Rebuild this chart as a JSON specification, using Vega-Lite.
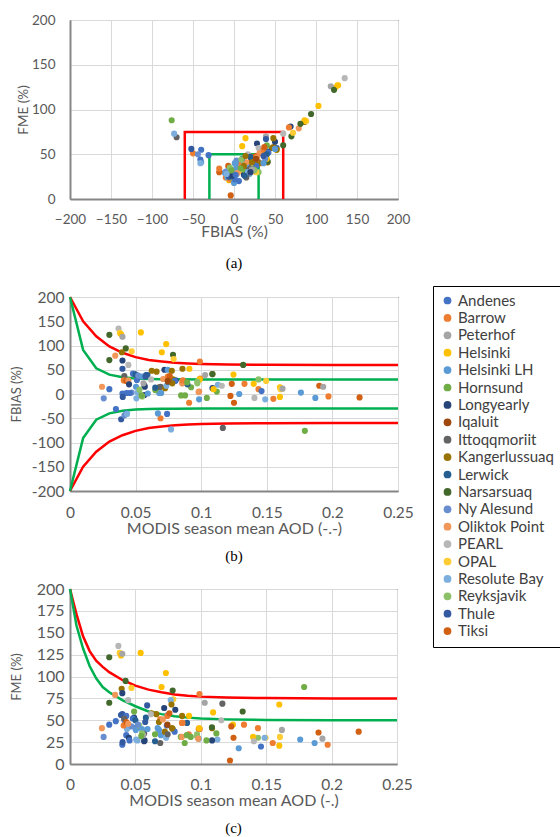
{
  "$schema": "https://vega.github.io/schema/vega-lite/v6.json",
  "padding": {"left": 9, "top": 12, "right": 0, "bottom": 0},
  "background": "white",
  "bounds": "flush",
  "spacing": 98,
  "datasets": {
    "pts": [
      {"station":"PEARL","aod":0.037,"fbias":135,"fme":135},
      {"station":"OPAL","aod":0.038,"fbias":126,"fme":127},
      {"station":"Helsinki","aod":0.039,"fbias":123,"fme":124},
      {"station":"Peterhof","aod":0.040,"fbias":118,"fme":126},
      {"station":"Narsarsuaq","aod":0.030,"fbias":122,"fme":122},
      {"station":"Helsinki","aod":0.054,"fbias":127,"fme":127},
      {"station":"Narsarsuaq","aod":0.0425,"fbias":94,"fme":95},
      {"station":"Kangerlussuaq","aod":0.0395,"fbias":86,"fme":86},
      {"station":"OPAL","aod":0.047,"fbias":88,"fme":87},
      {"station":"Oliktok Point","aod":0.0345,"fbias":79,"fme":79},
      {"station":"Narsarsuaq","aod":0.030,"fbias":70,"fme":70},
      {"station":"Longyearly","aod":0.040,"fbias":69,"fme":81},
      {"station":"Thule","aod":0.040,"fbias":52,"fme":57},
      {"station":"PEARL","aod":0.0445,"fbias":60,"fme":73},
      {"station":"Helsinki","aod":0.0733,"fbias":103,"fme":104},
      {"station":"Helsinki","aod":0.070,"fbias":86,"fme":88},
      {"station":"Narsarsuaq","aod":0.0785,"fbias":81,"fme":84},
      {"station":"OPAL","aod":0.079,"fbias":72,"fme":74},
      {"station":"Barrow","aod":0.099,"fbias":67,"fme":80},
      {"station":"Narsarsuaq","aod":0.132,"fbias":60,"fme":60},
      {"station":"Hornsund","aod":0.179,"fbias":-76,"fme":88},
      {"station":"Ittoqqmoriit","aod":0.1165,"fbias":-70,"fme":69},
      {"station":"Resolute Bay","aod":0.077,"fbias":-73,"fme":73},
      {"station":"Barrow","aod":0.069,"fbias":-50,"fme":51},
      {"station":"Helsinki LH","aod":0.067,"fbias":-40,"fme":41},
      {"station":"Andenes","aod":0.074,"fbias":-41,"fme":44},
      {"station":"Thule","aod":0.039,"fbias":-52,"fme":56},
      {"station":"Andenes","aod":0.043,"fbias":-40,"fme":55},
      {"station":"Ny Alesund","aod":0.0415,"fbias":-44,"fme":50},
      {"station":"Andenes","aod":0.035,"fbias":-31,"fme":49},
      {"station":"Resolute Bay","aod":0.0435,"fbias":-41,"fme":40},
      {"station":"Reyksjavik","aod":0.1437,"fbias":30,"fme":30},
      {"station":"Helsinki","aod":0.140,"fbias":21,"fme":31},
      {"station":"OPAL","aod":0.1495,"fbias":27,"fme":30},
      {"station":"Barrow","aod":0.1437,"fbias":10,"fme":41},
      {"station":"Andenes","aod":0.146,"fbias":6,"fme":20},
      {"station":"PEARL","aod":0.1406,"fbias":-8,"fme":26},
      {"station":"Resolute Bay","aod":0.1488,"fbias":-11,"fme":30},
      {"station":"Barrow","aod":0.155,"fbias":-10,"fme":24},
      {"station":"Helsinki","aod":0.160,"fbias":14,"fme":68},
      {"station":"OPAL","aod":0.1605,"fbias":10,"fme":31},
      {"station":"Peterhof","aod":0.162,"fbias":11,"fme":39},
      {"station":"Helsinki","aod":0.160,"fbias":-6,"fme":21},
      {"station":"Helsinki LH","aod":0.176,"fbias":3,"fme":28},
      {"station":"Helsinki LH","aod":0.187,"fbias":-8,"fme":24},
      {"station":"Tiksi","aod":0.190,"fbias":17,"fme":36},
      {"station":"Peterhof","aod":0.193,"fbias":15,"fme":29},
      {"station":"Barrow","aod":0.197,"fbias":-5,"fme":22},
      {"station":"Tiksi","aod":0.2207,"fbias":-7,"fme":37},
      {"station":"Peterhof","aod":0.103,"fbias":39,"fme":70},
      {"station":"Kangerlussuaq","aod":0.1086,"fbias":41,"fme":41},
      {"station":"Narsarsuaq","aod":0.1085,"fbias":41,"fme":42},
      {"station":"Helsinki","aod":0.1246,"fbias":40,"fme":45},
      {"station":"Barrow","aod":0.133,"fbias":21,"fme":45},
      {"station":"Tiksi","aod":0.1233,"fbias":21,"fme":43},
      {"station":"Resolute Bay","aod":0.1127,"fbias":19,"fme":28},
      {"station":"PEARL","aod":0.1157,"fbias":17,"fme":50},
      {"station":"Hornsund","aod":0.1119,"fbias":5,"fme":35},
      {"station":"Longyearly","aod":0.1086,"fbias":12,"fme":27},
      {"station":"Helsinki","aod":0.1094,"fbias":10,"fme":59},
      {"station":"Barrow","aod":0.0984,"fbias":5,"fme":40},
      {"station":"Helsinki LH","aod":0.0984,"fbias":-11,"fme":29},
      {"station":"Hornsund","aod":0.1043,"fbias":-8,"fme":27},
      {"station":"Tiksi","aod":0.1223,"fbias":-4,"fme":4},
      {"station":"Helsinki LH","aod":0.129,"fbias":0,"fme":18},
      {"station":"Tiksi","aod":0.125,"fbias":-18,"fme":30},
      {"station":"Hornsund","aod":0.0847,"fbias":-3,"fme":31},
      {"station":"Hornsund","aod":0.0877,"fbias":-3,"fme":24},
      {"station":"Barrow","aod":0.0908,"fbias":-18,"fme":34},
      {"station":"Hornsund","aod":0.0923,"fbias":14,"fme":31},
      {"station":"Reyksjavik","aod":0.0971,"fbias":22,"fme":34},
      {"station":"Barrow","aod":0.0992,"fbias":32,"fme":40},
      {"station":"Helsinki","aod":0.0988,"fbias":30,"fme":41},
      {"station":"Helsinki","aod":0.091,"fbias":52,"fme":55},
      {"station":"Kangerlussuaq","aod":0.0857,"fbias":52,"fme":55},
      {"station":"Barrow","aod":0.0856,"fbias":22,"fme":47},
      {"station":"Lerwick","aod":0.0895,"fbias":20,"fme":47},
      {"station":"Kangerlussuaq","aod":0.0623,"fbias":48,"fme":58},
      {"station":"Kangerlussuaq","aod":0.066,"fbias":46,"fme":57},
      {"station":"Longyearly","aod":0.072,"fbias":50,"fme":64},
      {"station":"Helsinki LH","aod":0.0745,"fbias":50,"fme":56},
      {"station":"Kangerlussuaq","aod":0.0776,"fbias":48,"fme":68},
      {"station":"Longyearly","aod":0.0805,"fbias":28,"fme":62},
      {"station":"Thule","aod":0.059,"fbias":39,"fme":67},
      {"station":"Longyearly","aod":0.049,"fbias":41,"fme":53},
      {"station":"Ittoqqmoriit","aod":0.0414,"fbias":37,"fme":52},
      {"station":"Barrow","aod":0.041,"fbias":28,"fme":44},
      {"station":"Tiksi","aod":0.043,"fbias":27,"fme":48},
      {"station":"Andenes","aod":0.051,"fbias":29,"fme":42},
      {"station":"Lerwick","aod":0.058,"fbias":39,"fme":53},
      {"station":"PEARL","aod":0.0618,"fbias":30,"fme":57},
      {"station":"Ittoqqmoriit","aod":0.0567,"fbias":18,"fme":35},
      {"station":"Longyearly","aod":0.057,"fbias":15,"fme":27},
      {"station":"Helsinki LH","aod":0.0503,"fbias":15,"fme":39},
      {"station":"Oliktok Point","aod":0.0244,"fbias":15,"fme":41},
      {"station":"Andenes","aod":0.030,"fbias":10,"fme":45},
      {"station":"Ny Alesund","aod":0.0257,"fbias":-9,"fme":31},
      {"station":"Andenes","aod":0.040,"fbias":1,"fme":22},
      {"station":"Andenes","aod":0.043,"fbias":2,"fme":33},
      {"station":"Ny Alesund","aod":0.047,"fbias":3,"fme":43},
      {"station":"Thule","aod":0.0402,"fbias":-6,"fme":25},
      {"station":"Resolute Bay","aod":0.0516,"fbias":3,"fme":27},
      {"station":"Reyksjavik","aod":0.053,"fbias":9,"fme":44},
      {"station":"Longyearly","aod":0.0567,"fbias":-2,"fme":26},
      {"station":"Resolute Bay","aod":0.0506,"fbias":-9,"fme":28},
      {"station":"Helsinki LH","aod":0.0593,"fbias":1,"fme":40},
      {"station":"Hornsund","aod":0.049,"fbias":40,"fme":60},
      {"station":"Kangerlussuaq","aod":0.068,"fbias":14,"fme":48},
      {"station":"Ittoqqmoriit","aod":0.069,"fbias":15,"fme":24},
      {"station":"Helsinki LH","aod":0.0695,"fbias":2,"fme":33},
      {"station":"Oliktok Point","aod":0.071,"fbias":31,"fme":51},
      {"station":"Kangerlussuaq","aod":0.0725,"fbias":12,"fme":37},
      {"station":"Resolute Bay","aod":0.0735,"fbias":17,"fme":30},
      {"station":"Ittoqqmoriit","aod":0.0747,"fbias":25,"fme":34},
      {"station":"Kangerlussuaq","aod":0.0786,"fbias":30,"fme":40},
      {"station":"Helsinki LH","aod":0.068,"fbias":2,"fme":39},
      {"station":"Barrow","aod":0.0745,"fbias":36,"fme":55},
      {"station":"Tiksi","aod":0.076,"fbias":37,"fme":58},
      {"station":"Andenes","aod":0.08,"fbias":27,"fme":37},
      {"station":"Hornsund","aod":0.065,"fbias":8,"fme":34},
      {"station":"Oliktok Point","aod":0.0855,"fbias":23,"fme":31},
      {"station":"Barrow","aod":0.086,"fbias":28,"fme":47},
      {"station":"Kangerlussuaq","aod":0.078,"fbias":22,"fme":41},
      {"station":"Hornsund","aod":0.0893,"fbias":24,"fme":33},
      {"station":"Reyksjavik","aod":0.097,"fbias":25,"fme":32},
      {"station":"Oliktok Point","aod":0.098,"fbias":4,"fme":29},
      {"station":"Andenes","aod":0.048,"fbias":42,"fme":52},
      {"station":"Lerwick","aod":0.050,"fbias":40,"fme":50},
      {"station":"Ny Alesund","aod":0.052,"fbias":38,"fme":45},
      {"station":"Helsinki LH","aod":0.055,"fbias":36,"fme":40},
      {"station":"Thule","aod":0.0575,"fbias":36,"fme":48},
      {"station":"Peterhof","aod":0.056,"fbias":22,"fme":33},
      {"station":"Oliktok Point","aod":0.0445,"fbias":28,"fme":46},
      {"station":"Longyearly","aod":0.045,"fbias":20,"fme":30},
      {"station":"Reyksjavik","aod":0.055,"fbias":-5,"fme":35},
      {"station":"Hornsund","aod":0.0545,"fbias":-3,"fme":32},
      {"station":"Andenes","aod":0.0455,"fbias":2,"fme":27},
      {"station":"Iqaluit","aod":0.0745,"fbias":27,"fme":45},
      {"station":"Lerwick","aod":0.065,"fbias":13,"fme":26}
    ],
    "boxes": [
      {"line":"red","seq":1,"fbias":-60,"fme":0},
      {"line":"red","seq":2,"fbias":-60,"fme":75},
      {"line":"red","seq":3,"fbias":60,"fme":75},
      {"line":"red","seq":4,"fbias":60,"fme":0},
      {"line":"green","seq":1,"fbias":-30,"fme":0},
      {"line":"green","seq":2,"fbias":-30,"fme":50},
      {"line":"green","seq":3,"fbias":30,"fme":50},
      {"line":"green","seq":4,"fbias":30,"fme":0}
    ],
    "bcurves": [
      {"line":"red","side":"up","aod":0,"fbias":200},{"line":"red","side":"up","aod":0.01,"fbias":150},{"line":"red","side":"up","aod":0.02,"fbias":119},{"line":"red","side":"up","aod":0.03,"fbias":98},{"line":"red","side":"up","aod":0.04,"fbias":85},{"line":"red","side":"up","aod":0.05,"fbias":76},{"line":"red","side":"up","aod":0.06,"fbias":70},{"line":"red","side":"up","aod":0.07,"fbias":67},{"line":"red","side":"up","aod":0.08,"fbias":64.3},{"line":"red","side":"up","aod":0.09,"fbias":63},{"line":"red","side":"up","aod":0.1,"fbias":62},{"line":"red","side":"up","aod":0.12,"fbias":61},{"line":"red","side":"up","aod":0.15,"fbias":60.3},{"line":"red","side":"up","aod":0.2,"fbias":60},{"line":"red","side":"up","aod":0.25,"fbias":60},
      {"line":"red","side":"lo","aod":0,"fbias":-200},{"line":"red","side":"lo","aod":0.01,"fbias":-150},{"line":"red","side":"lo","aod":0.02,"fbias":-119},{"line":"red","side":"lo","aod":0.03,"fbias":-98},{"line":"red","side":"lo","aod":0.04,"fbias":-85},{"line":"red","side":"lo","aod":0.05,"fbias":-76},{"line":"red","side":"lo","aod":0.06,"fbias":-70},{"line":"red","side":"lo","aod":0.07,"fbias":-67},{"line":"red","side":"lo","aod":0.08,"fbias":-64.3},{"line":"red","side":"lo","aod":0.09,"fbias":-63},{"line":"red","side":"lo","aod":0.1,"fbias":-62},{"line":"red","side":"lo","aod":0.12,"fbias":-61},{"line":"red","side":"lo","aod":0.15,"fbias":-60.3},{"line":"red","side":"lo","aod":0.2,"fbias":-60},{"line":"red","side":"lo","aod":0.25,"fbias":-60},
      {"line":"green","side":"up","aod":0,"fbias":200},{"line":"green","side":"up","aod":0.01,"fbias":91},{"line":"green","side":"up","aod":0.02,"fbias":53},{"line":"green","side":"up","aod":0.03,"fbias":40},{"line":"green","side":"up","aod":0.04,"fbias":34.5},{"line":"green","side":"up","aod":0.05,"fbias":32},{"line":"green","side":"up","aod":0.06,"fbias":31},{"line":"green","side":"up","aod":0.07,"fbias":30.5},{"line":"green","side":"up","aod":0.08,"fbias":30.2},{"line":"green","side":"up","aod":0.1,"fbias":30},{"line":"green","side":"up","aod":0.25,"fbias":30},
      {"line":"green","side":"lo","aod":0,"fbias":-200},{"line":"green","side":"lo","aod":0.01,"fbias":-91},{"line":"green","side":"lo","aod":0.02,"fbias":-53},{"line":"green","side":"lo","aod":0.03,"fbias":-40},{"line":"green","side":"lo","aod":0.04,"fbias":-34.5},{"line":"green","side":"lo","aod":0.05,"fbias":-32},{"line":"green","side":"lo","aod":0.06,"fbias":-31},{"line":"green","side":"lo","aod":0.07,"fbias":-30.5},{"line":"green","side":"lo","aod":0.08,"fbias":-30.2},{"line":"green","side":"lo","aod":0.1,"fbias":-30},{"line":"green","side":"lo","aod":0.25,"fbias":-30}
    ],
    "ccurves": [
      {"line":"red","aod":0,"fme":200},{"line":"red","aod":0.005,"fme":171},{"line":"red","aod":0.01,"fme":146},{"line":"red","aod":0.015,"fme":129},{"line":"red","aod":0.02,"fme":118},{"line":"red","aod":0.025,"fme":111},{"line":"red","aod":0.03,"fme":105},{"line":"red","aod":0.04,"fme":96},{"line":"red","aod":0.05,"fme":89.5},{"line":"red","aod":0.06,"fme":85},{"line":"red","aod":0.07,"fme":82},{"line":"red","aod":0.08,"fme":79.5},{"line":"red","aod":0.09,"fme":78},{"line":"red","aod":0.1,"fme":77},{"line":"red","aod":0.12,"fme":76},{"line":"red","aod":0.15,"fme":75.3},{"line":"red","aod":0.2,"fme":75},{"line":"red","aod":0.25,"fme":75},
      {"line":"green","aod":0,"fme":200},{"line":"green","aod":0.005,"fme":158},{"line":"green","aod":0.01,"fme":132},{"line":"green","aod":0.015,"fme":112},{"line":"green","aod":0.02,"fme":98},{"line":"green","aod":0.025,"fme":88},{"line":"green","aod":0.03,"fme":82},{"line":"green","aod":0.04,"fme":73},{"line":"green","aod":0.05,"fme":66},{"line":"green","aod":0.06,"fme":60},{"line":"green","aod":0.07,"fme":57},{"line":"green","aod":0.08,"fme":54.5},{"line":"green","aod":0.09,"fme":53},{"line":"green","aod":0.1,"fme":52},{"line":"green","aod":0.12,"fme":51},{"line":"green","aod":0.15,"fme":50.3},{"line":"green","aod":0.2,"fme":50},{"line":"green","aod":0.25,"fme":50}
    ]
  },
  "vconcat": [
    {
      "width": 328, "height": 179,
      "title": {"text": "(a)", "offset": 16},
      "encoding": {
        "x": {"field": "fbias", "type": "quantitative", "scale": {"domain": [-200, 200]},
              "axis": {"title": "FBIAS (%)", "values": [-200,-150,-100,-50,0,50,100,150,200], "tickCount": 20, "labelOverlap": false, "labelFontSize": 13.5, "titleFontSize": 15.5, "labelPadding": 13, "titlePadding": -1}},
        "y": {"field": "fme", "type": "quantitative", "scale": {"domain": [0, 200]},
              "axis": {"title": "FME (%)", "values": [0,50,100,150,200], "tickCount": 20, "labelOverlap": false, "labelFontSize": 13.5, "labelPadding": 15, "titleFontSize": 13.5, "titleX": -47, "titleBaseline": "middle"}}
      },
      "layer": [
        {
          "data": {"name": "boxes"},
          "mark": {"type": "line", "strokeWidth": 2.5},
          "encoding": {
            "stroke": {"field": "line", "type": "nominal", "scale": {"domain": ["red","green"], "range": ["#FF0000","#00B050"]}, "legend": null},
            "detail": {"field": "line"},
            "order": {"field": "seq", "type": "quantitative"}
          }
        },
        {
          "data": {"name": "pts"},
          "mark": {"type": "point", "filled": true, "opacity": 1, "size": 38},
          "encoding": {
            "color": {"field": "station", "type": "nominal"}
          }
        }
      ]
    },
    {
      "width": 328, "height": 194,
      "title": {"text": "(b)", "offset": 12},
      "encoding": {
        "x": {"field": "aod", "type": "quantitative", "scale": {"domain": [0, 0.25]},
              "axis": {"title": "MODIS season mean AOD (-.-)", "values": [0,0.05,0.1,0.15,0.2,0.25], "tickCount": 20, "format": "~g", "labelOverlap": false, "labelFontSize": 15.5, "titleFontSize": 16, "labelPadding": 14, "titlePadding": 0}},
        "y": {"field": "fbias", "type": "quantitative", "scale": {"domain": [-200, 200], "nice": false},
              "axis": {"title": "FBIAS (%)", "values": [-200,-150,-100,-50,0,50,100,150,200], "tickCount": 20, "tickMinStep": 50, "labelOverlap": false, "labelSeparation": 0, "labelBound": false, "labelExpr": "datum.value", "labelFontSize": 15.5, "labelPadding": 6, "titleFontSize": 13, "titleX": -54, "titleBaseline": "middle"}}
      },
      "layer": [
        {
          "data": {"name": "bcurves"},
          "mark": {"type": "line", "strokeWidth": 2.5},
          "encoding": {
            "stroke": {"field": "line", "type": "nominal", "legend": null},
            "detail": {"field": "side"}
          }
        },
        {
          "data": {"name": "pts"},
          "mark": {"type": "point", "filled": true, "opacity": 1, "size": 38},
          "encoding": {
            "color": {"field": "station", "type": "nominal"}
          }
        }
      ]
    },
    {
      "width": 327, "height": 175,
      "title": {"text": "(c)", "offset": 12},
      "encoding": {
        "x": {"field": "aod", "type": "quantitative", "scale": {"domain": [0, 0.25]},
              "axis": {"title": "MODIS season mean AOD (-.)", "values": [0,0.05,0.1,0.15,0.2,0.25], "tickCount": 20, "format": "~g", "labelOverlap": false, "labelFontSize": 15.5, "titleFontSize": 16, "labelPadding": 13, "titlePadding": 0}},
        "y": {"field": "fme", "type": "quantitative", "scale": {"domain": [0, 200]},
              "axis": {"title": "FME (%)", "values": [0,25,50,75,100,125,150,175,200], "tickCount": 20, "labelOverlap": false, "labelFontSize": 16, "labelPadding": 6, "titleFontSize": 13, "titleX": -54, "titleBaseline": "middle"}}
      },
      "layer": [
        {
          "data": {"name": "ccurves"},
          "mark": {"type": "line", "strokeWidth": 2.5},
          "encoding": {
            "stroke": {"field": "line", "type": "nominal", "legend": null}
          }
        },
        {
          "data": {"name": "pts"},
          "mark": {"type": "point", "filled": true, "opacity": 1, "size": 38},
          "encoding": {
            "color": {"field": "station", "type": "nominal",
                      "scale": {"domain": ["Andenes","Barrow","Peterhof","Helsinki","Helsinki LH","Hornsund","Longyearly","Iqaluit","Ittoqqmoriit","Kangerlussuaq","Lerwick","Narsarsuaq","Ny Alesund","Oliktok Point","PEARL","OPAL","Resolute Bay","Reyksjavik","Thule","Tiksi"],
                                "range": ["#4472C4","#ED7D31","#A5A5A5","#FFC000","#5B9BD5","#70AD47","#264478","#9E480E","#636363","#997300","#255E91","#43682B","#698ED0","#F1975A","#B7B7B7","#FFCD33","#7CAFDD","#8CC168","#335AA1","#D26012"]},
                      "legend": {"title": null, "orient": "none", "legendX": 363, "legendY": 266}}
          }
        }
      ]
    }
  ],
  "config": {
    "font": "Lato",
    "view": {"stroke": "#000", "strokeWidth": 1},
    "axis": {
      "labelFont": "Lato", "labelColor": "#595959", "labelOverlap": false, "labelFlush": false,
      "titleFont": "Lato", "titleColor": "#595959", "titleFontWeight": "normal",
      "gridColor": "#d9d9d9", "gridWidth": 1, "ticks": false,
      "domainColor": "#868686", "domainWidth": 2
    },
    "legend": {
      "strokeColor": "#000", "strokeWidth": 1, "fillColor": "#fff", "padding": 7,
      "labelFont": "Lato", "labelFontSize": 15, "labelColor": "#404040",
      "symbolType": "circle", "symbolSize": 60, "symbolStrokeWidth": 0, "symbolOpacity": 1,
      "rowPadding": 1.4, "labelOffset": 3
    },
    "title": {"orient": "bottom", "anchor": "middle", "font": "Liberation Serif", "fontSize": 15, "fontWeight": "normal", "color": "#000"}
  }
}
